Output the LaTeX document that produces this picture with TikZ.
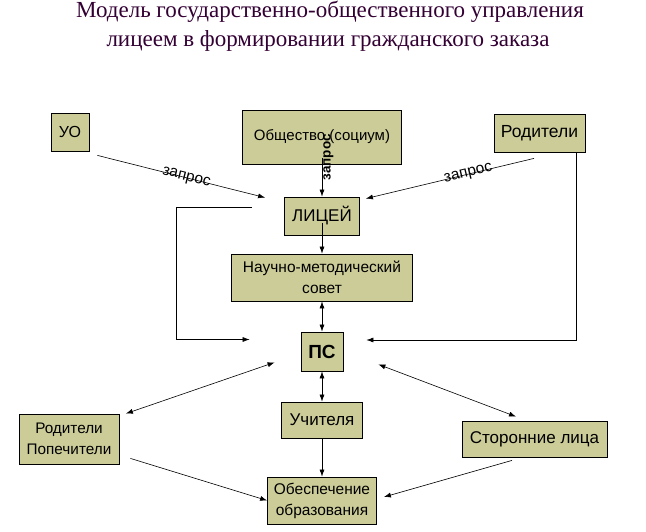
\documentclass[tikz,border=0pt]{standalone}
\usepackage{fontspec}
\setmainfont{Liberation Sans}
\newfontfamily\titlefont{Liberation Serif}
\usepackage{xcolor}
\usetikzlibrary{arrows.meta,positioning,calc}
\definecolor{boxfill}{HTML}{CCCC99}
\definecolor{titlecol}{HTML}{330033}

\begin{document}
\begin{tikzpicture}[x=1pt,y=-1pt,
    box/.style={draw=black, fill=boxfill, line width=0.8pt, inner sep=0pt, align=center},
    fs/.style={font=\fontsize{#1}{21}\selectfont},
    link/.style={line width=0.6pt, -{Latex[length=7pt,width=5pt]}},
    both/.style={line width=0.6pt, {Latex[length=7pt,width=5pt]}-{Latex[length=7pt,width=5pt]}},
    req/.style={font=\fontsize{15.5}{15.5}\selectfont, sloped, inner sep=0pt}]
        \useasboundingbox (0,0) rectangle (646,532);
        % Title
        \node[anchor=base, inner sep=0pt, text=titlecol, font=\titlefont\fontsize{23}{23}\selectfont] (title1) at (330,18) {Модель государственно-общественного управления};
        \node[anchor=base, inner sep=0pt, text=titlecol, font=\titlefont\fontsize{23}{23}\selectfont] (title2) at (328,47) {лицеем в формировании гражданского заказа};
        % Boxes
        \node[box, fs=16, minimum width=38, minimum height=38] (uo) at (70,132) {УО};
        \node[box, fs=15, minimum width=159, minimum height=54] (obsh) at (322,137) {Общество (социум)};
        \node[box, fs=17.5, minimum width=91, minimum height=38] (rod) at (539.5,133) {Родители};
        \node[box, fs=17, minimum width=75, minimum height=38] (lic) at (322,216) {ЛИЦЕЙ};
        \node[box, fs=15.5, minimum width=181, minimum height=47] (nms) at (322,277.5) {Научно-методический\\совет};
        \node[box, font=\bfseries\fontsize{19}{21}\selectfont, minimum width=42, minimum height=39] (ps) at (322,351.5) {ПС};
        \node[box, fs=17, minimum width=81, minimum height=36] (uch) at (322,420) {Учителя};
        \node[box, fs=15.3, minimum width=100, minimum height=50] (rp) at (69,439) {Родители\\Попечители};
        \node[box, fs=17, minimum width=145, minimum height=36] (st) at (534.5,439) {Сторонние лица};
        \node[box, fs=15.5, minimum width=109, minimum height=47] (obr) at (322,500.5) {Обеспечение\\образования};
        % Requests
        \draw[link] ([shift={(8,4)}]uo.south east) -- node[req, pos=0.53] {запрос} ([shift={(-19,1)}]lic.north west);
        \draw[link] ([shift={(-5.5,6)}]rod.south) -- node[req, pos=0.39] {запрос} ([shift={(6,2)}]lic.north east);
        \draw[link] ([yshift=6pt]obsh.south) -- (lic.north);
        \node[rotate=90, inner sep=0pt, font=\bfseries\fontsize{13.5}{13.5}\selectfont] (req3) at ([shift={(6.5,-7)}]obsh.south) {запрос};
        % Vertical chain
        \draw[link] ([yshift=12pt]lic.south) -- (nms.north);
        \draw[both] (nms.south) -- (ps.north);
        \draw[both] (ps.south) -- (uch.north);
        \draw[link] (uch.south) -- (obr.north);
        % Side lines to PS
        \draw[link] ([shift={(-32.5,-9)}]lic.west) -- ++(-75,0) |- ([shift={(-51,-12)}]ps.west);
        \draw[link] ([xshift=-9pt]rod.south east) |- ([shift={(23,-11.5)}]ps.east);
        \draw[both] ([xshift=6.5pt]rp.north east) -- ([shift={(-26,-9)}]ps.south west);
        \draw[both] ([shift={(-18.5,-4)}]st.north) -- ([shift={(35,-7)}]ps.south east);
        % To education
        \draw[link] ([shift={(11,-6)}]rp.south east) -- (obr.west);
        \draw[link] ([shift={(-22.5,3)}]st.south) -- ([shift={(7,-3.5)}]obr.east);
    \end{tikzpicture}
\end{document}
